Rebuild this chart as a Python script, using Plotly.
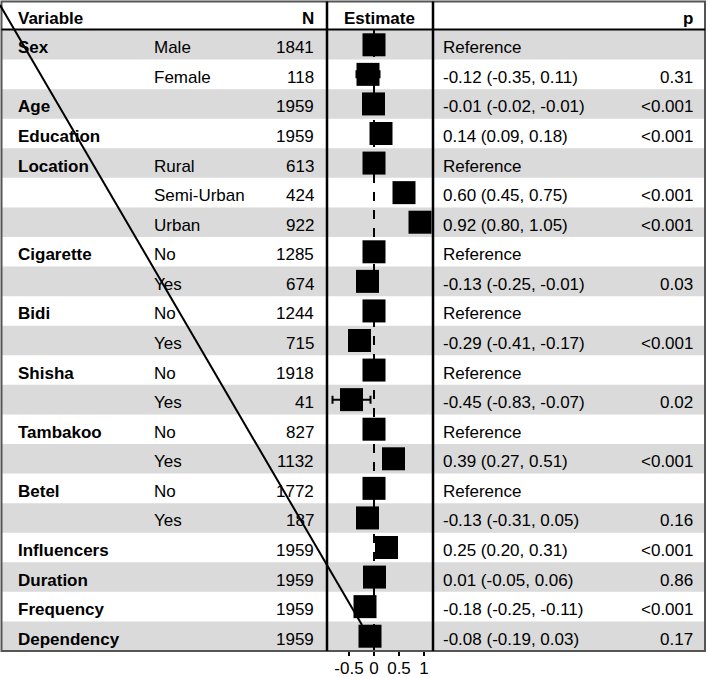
import plotly.graph_objects as go

variables = ["Sex", "", "Age", "Education", "Location", "", "", "Cigarette", "", "Bidi", "",
             "Shisha", "", "Tambakoo", "", "Betel", "", "Influencers", "Duration", "Frequency", "Dependency"]
levels = ["Male", "Female", "", "", "Rural", "Semi-Urban", "Urban", "No", "Yes", "No", "Yes",
          "No", "Yes", "No", "Yes", "No", "Yes", "", "", "", ""]
n_obs = [1841, 118, 1959, 1959, 613, 424, 922, 1285, 674, 1244, 715,
         1918, 41, 827, 1132, 1772, 187, 1959, 1959, 1959, 1959]
estimate = [0, -0.12, -0.01, 0.14, 0, 0.60, 0.92, 0, -0.13, 0, -0.29,
            0, -0.45, 0, 0.39, 0, -0.13, 0.25, 0.01, -0.18, -0.08]
ci_low = [0, -0.35, -0.02, 0.09, 0, 0.45, 0.80, 0, -0.25, 0, -0.41,
          0, -0.83, 0, 0.27, 0, -0.31, 0.20, -0.05, -0.25, -0.19]
ci_high = [0, 0.11, -0.01, 0.18, 0, 0.75, 1.05, 0, -0.01, 0, -0.17,
           0, -0.07, 0, 0.51, 0, 0.05, 0.31, 0.06, -0.11, 0.03]
is_ref = [True, False, False, False, True, False, False, True, False, True, False,
          True, False, True, False, True, False, False, False, False, False]
p_text = ["", "0.31", "<0.001", "<0.001", "", "<0.001", "<0.001", "", "0.03", "", "<0.001",
          "", "0.02", "", "<0.001", "", "0.16", "<0.001", "0.86", "<0.001", "0.17"]
tick_vals = [-0.5, 0, 0.5, 1]
tick_text = ["-0.5", "0", "0.5", "1"]

W, H = 708, 677
FONT = "Liberation Sans, Arial, sans-serif"
rows = list(range(len(variables)))


def px(x):
    return x / W


def py(y):
    return 1 - y / H


fig = go.Figure()

fig.add_trace(go.Scatter(
    x=estimate, y=rows, mode="markers",
    marker=dict(symbol="square", size=23, color="black"),
    error_x=dict(type="data", symmetric=False,
                 array=[h - e for h, e in zip(ci_high, estimate)],
                 arrayminus=[e - l for e, l in zip(estimate, ci_low)],
                 color="black", thickness=2, width=4),
    showlegend=False, hoverinfo="skip"))

shapes = []
# row shading
for i in rows:
    if i % 2 == 0:
        shapes.append(dict(type="rect", xref="paper", yref="y", x0=px(2), x1=px(705),
                           y0=i - 0.5, y1=i + 0.5, fillcolor="#dadada", line_width=0, layer="below"))
# zero line
shapes.append(dict(type="line", xref="x", yref="y", x0=0, x1=0, y0=-0.5, y1=len(rows) - 0.5,
                   line=dict(color="black", width=2, dash="dash"), layer="below"))
# borders
shapes.append(dict(type="rect", xref="paper", yref="paper", x0=px(1.5), x1=px(705), y0=py(1.5), y1=py(651),
                   line=dict(color="#555555", width=2), layer="above"))
shapes.append(dict(type="line", xref="paper", yref="paper", x0=px(1.5), x1=px(705), y0=py(29.5), y1=py(29.5),
                   line=dict(color="black", width=2), layer="above"))
for xv in [327, 433]:
    shapes.append(dict(type="line", xref="paper", yref="paper", x0=px(xv), x1=px(xv), y0=py(1.5), y1=py(651),
                       line=dict(color="black", width=2.5), layer="above"))
# stray diagonal line in the original
shapes.append(dict(type="line", xref="paper", yref="paper", x0=px(0), x1=px(362), y0=py(5), y1=py(625),
                   line=dict(color="black", width=2), layer="above"))

annotations = []


def txt(text, x, y, anchor, yref="y"):
    annotations.append(dict(text=text, x=x, y=y, xref="paper", yref=yref, xanchor=anchor,
                            yanchor="middle", showarrow=False, yshift=-3,
                            font=dict(family=FONT, size=17, color="black")))


# header
txt("<b>Variable</b>", px(16), py(16), "left", "paper")
txt("<b>N</b>", px(316), py(16), "right", "paper")
txt("<b>Estimate</b>", px(379), py(16), "center", "paper")
txt("<b>p</b>", px(695), py(16), "right", "paper")

for i in rows:
    if variables[i]:
        txt("<b>" + variables[i] + "</b>", px(16), i, "left")
    if levels[i]:
        txt(levels[i], px(152), i, "left")
    txt(str(n_obs[i]), px(316), i, "right")
    if is_ref[i]:
        est = "Reference"
    else:
        est = "%.2f (%.2f, %.2f)" % (estimate[i], ci_low[i], ci_high[i])
    txt(est, px(441), i, "left")
    if p_text[i]:
        txt(p_text[i], px(695), i, "right")

fig.update_layout(
    width=W, height=H,
    margin=dict(l=0, r=0, t=0, b=0),
    paper_bgcolor="white", plot_bgcolor="rgba(0,0,0,0)",
    shapes=shapes, annotations=annotations,
    xaxis=dict(domain=[px(327), px(433)], range=[-0.94, 1.18], showgrid=False, zeroline=False,
               showline=False, ticks="outside", ticklen=4, tickwidth=1.5, tickcolor="black",
               tickvals=tick_vals, ticktext=tick_text, ticklabelstandoff=-2, automargin=False,
               tickfont=dict(family=FONT, size=17, color="black")),
    yaxis=dict(domain=[py(651), py(30)], range=[len(rows) - 0.5, -0.5], visible=False,
               automargin=False),
)

# page body has an 8px default margin; drop it so the figure sits at the window corner
fig.write_html("out.html", config={"displayModeBar": False},
               post_script="document.body.style.margin='0px';")
